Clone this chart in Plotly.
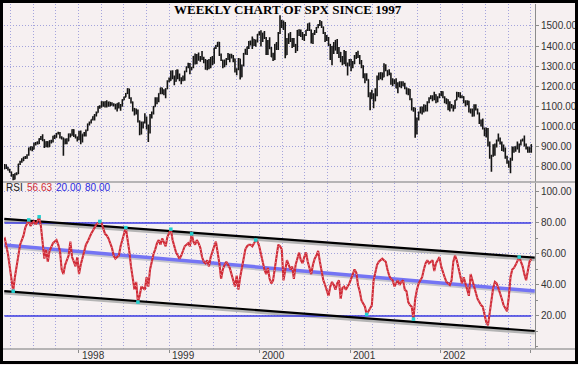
import plotly.graph_objects as go
import pandas as pd

# ---------------- data (weekly SPX, Mar 1997 - Jan 2003) ----------------
open_ = [
    790, 805, 793, 784, 774, 758, 738, 766, 765, 813, 825, 830, 847, 848, 858, 893, 899, 887, 917, 917,
    915, 939, 947, 934, 901, 924, 899, 929, 924, 951, 945, 965, 967, 944, 942, 915, 928, 928, 963, 955,
    984, 953, 947,
    936, 975, 928, 962, 958, 980, 1012, 1020, 1034, 1049, 1056, 1069, 1099, 1095, 1123, 1111, 1123, 1108, 1121, 1108,
    1109, 1110, 1091, 1114, 1099, 1101, 1133, 1146, 1164, 1187, 1141, 1121, 1089, 1063, 1081, 1027, 974, 1009, 1020, 1045,
    1003, 985, 1056, 1071, 1099, 1141, 1126, 1164, 1192, 1177, 1166, 1188, 1226,
    1229, 1275, 1243, 1225, 1280, 1239, 1230, 1239, 1238, 1275, 1295, 1299, 1283, 1294, 1348, 1319, 1357, 1335, 1345, 1338,
    1330, 1302, 1328, 1294, 1343, 1315, 1391, 1403, 1419, 1357, 1329, 1300, 1328, 1337, 1348, 1357, 1352, 1335, 1277, 1283,
    1336, 1247, 1302, 1363, 1370, 1396, 1422, 1417, 1433, 1417, 1421, 1458,
    1469, 1441, 1465, 1441, 1360, 1424, 1387, 1346, 1333, 1409, 1395, 1464, 1527, 1499, 1516, 1357, 1435, 1452, 1433, 1421,
    1407, 1378, 1477, 1457, 1464, 1441, 1455, 1479, 1510, 1480, 1420, 1463, 1472, 1492, 1506, 1521, 1495, 1466, 1449, 1437,
    1409, 1374, 1397, 1380, 1427, 1366, 1368, 1342, 1315, 1370, 1312, 1306,
    1320, 1298, 1319, 1343, 1355, 1349, 1315, 1302, 1246, 1234, 1233, 1151, 1140, 1160, 1128, 1184, 1243, 1253, 1267, 1246,
    1292, 1278, 1261, 1265, 1214, 1225, 1224, 1191, 1216, 1211, 1206, 1214, 1190, 1162, 1185, 1134, 1086, 1093, 966, 1041,
    1071, 1092, 1073, 1105, 1087, 1120, 1139, 1150, 1139, 1158, 1123, 1145,
    1161, 1173, 1146, 1128, 1133, 1122, 1096, 1104, 1090, 1132, 1164, 1166, 1149, 1147, 1123, 1111, 1125, 1076, 1073, 1055,
    1107, 1084, 1067, 1028, 1007, 989, 990, 989, 921, 848, 853, 864, 909, 929, 941, 916, 894, 890, 845, 827,
    801, 835, 884, 898, 901, 895, 910, 931, 936, 907, 889, 896, 875,
]
high = [
    814, 812, 800, 790, 776, 764, 768, 772, 815, 830, 842, 850, 853, 862, 895, 900, 900, 919, 923, 927,
    942, 953, 961, 937, 927, 926, 932, 934, 954, 959, 968, 974, 972, 952, 945, 940, 941, 965, 965, 986,
    986, 962, 950,
    978, 980, 962, 972, 985, 1015, 1025, 1035, 1051, 1062, 1075, 1102, 1106, 1125, 1124, 1125, 1130, 1123, 1122, 1120,
    1115, 1112, 1116, 1120, 1112, 1136, 1149, 1166, 1190, 1188, 1145, 1124, 1092, 1090, 1085, 1030, 1025, 1025, 1066, 1050,
    1010, 1062, 1075, 1102, 1145, 1145, 1165, 1193, 1193, 1185, 1190, 1230, 1244,
    1278, 1280, 1253, 1281, 1283, 1263, 1245, 1253, 1277, 1300, 1317, 1316, 1296, 1350, 1363, 1360, 1368, 1350, 1375, 1347,
    1335, 1330, 1336, 1345, 1350, 1392, 1405, 1420, 1420, 1363, 1332, 1333, 1340, 1365, 1362, 1362, 1355, 1338, 1290, 1340,
    1337, 1308, 1365, 1387, 1398, 1425, 1428, 1447, 1435, 1433, 1460, 1474,
    1479, 1466, 1475, 1445, 1430, 1444, 1395, 1367, 1410, 1420, 1470, 1553, 1530, 1527, 1520, 1440, 1463, 1470, 1440, 1440,
    1410, 1480, 1483, 1482, 1470, 1460, 1480, 1512, 1517, 1482, 1465, 1480, 1495, 1510, 1530, 1523, 1497, 1470, 1455, 1445,
    1410, 1400, 1420, 1430, 1435, 1395, 1370, 1350, 1380, 1375, 1318, 1335,
    1335, 1325, 1355, 1370, 1377, 1355, 1330, 1305, 1265, 1265, 1235, 1170, 1183, 1165, 1190, 1253, 1268, 1270, 1268, 1315,
    1310, 1280, 1285, 1267, 1240, 1235, 1240, 1220, 1225, 1225, 1225, 1218, 1195, 1190, 1187, 1140, 1096, 1093, 1045, 1075,
    1100, 1100, 1110, 1107, 1125, 1145, 1155, 1155, 1173, 1160, 1150, 1165,
    1176, 1175, 1150, 1140, 1135, 1125, 1112, 1105, 1132, 1173, 1172, 1170, 1155, 1150, 1130, 1130, 1128, 1090, 1090, 1110,
    1110, 1090, 1070, 1035, 1040, 995, 995, 993, 925, 860, 912, 915, 935, 965, 945, 925, 910, 895, 855, 830,
    845, 900, 900, 902, 925, 915, 935, 940, 955, 915, 900, 897, 912,
]
low = [
    788, 789, 781, 770, 750, 733, 737, 757, 764, 808, 820, 828, 838, 840, 855, 880, 877, 885, 906, 910,
    913, 933, 927, 893, 897, 896, 898, 915, 920, 938, 944, 960, 940, 935, 855, 912, 912, 927, 945, 954,
    948, 940, 925,
    932, 912, 920, 950, 950, 979, 1005, 1015, 1030, 1030, 1050, 1068, 1088, 1094, 1098, 1095, 1095, 1098, 1100, 1103,
    1100, 1085, 1074, 1090, 1078, 1100, 1130, 1145, 1162, 1138, 1114, 1074, 1055, 1060, 1020, 957, 960, 990, 1015, 985,
    923, 965, 1040, 1060, 1098, 1110, 1120, 1160, 1160, 1155, 1140, 1185, 1220,
    1228, 1235, 1205, 1223, 1235, 1225, 1210, 1225, 1228, 1270, 1290, 1260, 1280, 1290, 1308, 1310, 1327, 1322, 1330, 1315,
    1282, 1280, 1285, 1290, 1305, 1312, 1385, 1395, 1350, 1325, 1290, 1295, 1305, 1330, 1320, 1338, 1320, 1268, 1255, 1280,
    1233, 1245, 1300, 1357, 1355, 1385, 1403, 1385, 1400, 1396, 1418, 1452,
    1398, 1420, 1435, 1355, 1355, 1385, 1345, 1325, 1330, 1380, 1380, 1460, 1490, 1480, 1339, 1355, 1410, 1420, 1390, 1395,
    1365, 1375, 1450, 1445, 1430, 1425, 1450, 1475, 1475, 1413, 1410, 1455, 1465, 1488, 1500, 1490, 1460, 1420, 1425, 1400,
    1330, 1305, 1360, 1378, 1360, 1340, 1320, 1305, 1310, 1300, 1254, 1300,
    1275, 1290, 1310, 1335, 1340, 1310, 1290, 1240, 1215, 1228, 1145, 1081, 1135, 1091, 1125, 1150, 1230, 1235, 1230, 1245,
    1275, 1250, 1255, 1208, 1200, 1210, 1190, 1165, 1195, 1190, 1200, 1185, 1160, 1155, 1130, 1080, 1073, 944, 960, 1030,
    1065, 1060, 1070, 1075, 1075, 1115, 1135, 1125, 1130, 1115, 1120, 1140,
    1150, 1140, 1115, 1110, 1081, 1074, 1090, 1074, 1088, 1130, 1145, 1140, 1140, 1115, 1100, 1105, 1070, 1065, 1048, 1050,
    1080, 1060, 1012, 1000, 985, 952, 945, 900, 840, 775, 850, 855, 895, 925, 910, 878, 875, 840, 815, 795,
    768, 830, 870, 875, 885, 870, 905, 925, 900, 885, 870, 870, 870,
]
close = [
    805, 793, 784, 774, 758, 738, 766, 765, 813, 825, 830, 847, 848, 858, 893, 899, 887, 917, 917, 915,
    939, 947, 934, 901, 924, 899, 929, 924, 951, 945, 965, 967, 944, 942, 915, 928, 928, 963, 955, 984,
    953, 947, 936,
    975, 928, 962, 958, 980, 1012, 1020, 1034, 1049, 1056, 1069, 1099, 1095, 1123, 1111, 1123, 1108, 1121, 1108, 1109,
    1110, 1091, 1114, 1099, 1101, 1133, 1146, 1164, 1187, 1141, 1121, 1089, 1063, 1081, 1027, 974, 1009, 1020, 1045, 1003,
    985, 1056, 1071, 1099, 1141, 1126, 1164, 1192, 1177, 1166, 1188, 1226, 1229,
    1275, 1243, 1225, 1280, 1239, 1230, 1239, 1238, 1275, 1295, 1299, 1283, 1294, 1348, 1319, 1357, 1335, 1345, 1338, 1330,
    1302, 1328, 1294, 1343, 1315, 1391, 1403, 1419, 1357, 1329, 1300, 1328, 1337, 1348, 1357, 1352, 1335, 1277, 1283, 1336,
    1247, 1302, 1363, 1370, 1396, 1422, 1417, 1433, 1417, 1421, 1458, 1469,
    1441, 1465, 1441, 1360, 1424, 1387, 1346, 1333, 1409, 1395, 1464, 1527, 1499, 1516, 1357, 1435, 1452, 1433, 1421, 1407,
    1378, 1477, 1457, 1464, 1441, 1455, 1479, 1510, 1480, 1420, 1463, 1472, 1492, 1506, 1521, 1495, 1466, 1449, 1437, 1409,
    1374, 1397, 1380, 1427, 1366, 1368, 1342, 1315, 1370, 1312, 1306, 1320,
    1298, 1319, 1343, 1355, 1349, 1315, 1302, 1246, 1234, 1233, 1151, 1140, 1160, 1128, 1184, 1243, 1253, 1267, 1246, 1292,
    1278, 1261, 1265, 1214, 1225, 1224, 1191, 1216, 1211, 1206, 1214, 1190, 1162, 1185, 1134, 1086, 1093, 966, 1041, 1071,
    1092, 1073, 1105, 1087, 1120, 1139, 1150, 1139, 1158, 1123, 1145, 1161,
    1173, 1146, 1128, 1133, 1122, 1096, 1104, 1090, 1132, 1164, 1166, 1149, 1147, 1123, 1111, 1125, 1076, 1073, 1055, 1107,
    1084, 1067, 1028, 1007, 989, 990, 989, 921, 848, 853, 864, 909, 929, 941, 916, 894, 890, 845, 827, 801,
    835, 884, 898, 901, 895, 910, 931, 936, 907, 889, 896, 875, 909,
]
rsi = [
    71, 66, 60, 52, 43, 36, 45, 52, 62, 66, 69, 72, 77, 80, 82, 78, 80, 81, 79, 81,
    84, 78, 66, 57, 63, 55, 62, 65, 67, 68, 69, 66, 62, 50, 47, 53, 56, 59, 68, 58,
    55, 52, 58, 47, 53, 57, 61, 66, 68, 71, 73, 75, 77, 79, 80, 81, 80, 77, 73, 72,
    70, 67, 64, 59, 57, 58, 59, 65, 70, 73, 77, 70, 62, 52, 44, 37, 42, 29, 33, 39,
    38, 37, 45, 39, 50, 56, 60, 63, 67, 69, 66, 70, 67, 65, 71, 74, 76, 69, 65, 61,
    59, 57, 59, 62, 65, 66, 67, 65, 73, 68, 66, 69, 67, 64, 58, 55, 54, 56, 52, 58,
    62, 65, 68, 61, 54, 44, 50, 53, 55, 53, 51, 47, 43, 39, 46, 37, 45, 52, 57, 63,
    65, 66, 66, 65, 67, 69, 68, 65, 60, 54, 50, 47, 51, 44, 41, 43, 50, 56, 66, 65,
    63, 43, 51, 56, 53, 50, 52, 44, 53, 58, 61, 56, 54, 58, 61, 55, 51, 47, 53, 57,
    59, 62, 55, 49, 43, 40, 37, 33, 39, 42, 40, 37, 41, 43, 31, 38, 39, 37, 39, 41,
    44, 47, 50, 48, 40, 36, 30, 28, 26, 21, 23, 25, 27, 43, 49, 53, 55, 56, 57, 56,
    55, 50, 46, 44, 43, 39, 41, 43, 40, 42, 43, 37, 36, 29, 27, 26, 18, 31, 37, 41,
    43, 45, 50, 54, 56, 54, 55, 56, 49, 54, 56, 58, 52, 48, 45, 42, 41, 40, 43, 55,
    59, 56, 51, 46, 41, 45, 41, 37, 33, 47, 43, 38, 35, 31, 29, 27, 26, 21, 16, 14,
    22, 33, 38, 42, 41, 38, 35, 31, 27, 25, 23, 32, 45, 50, 51, 53, 56, 58, 55, 52,
    47, 43, 49, 55, 56.63,
]
first_week = "1997-03-07"
dates = pd.date_range(first_week, periods=len(close), freq="W-FRI")

# RSI reference levels and drawn trend channel (value at left edge, value at right edge)
rsi_levels = [20, 80]
channel_dates = ["1997-03-06", "2003-01-17"]
channel_upper = [82.6, 57.6]
channel_middle = [65.8, 36.1]
channel_lower = [36.1, 10.3]
touch_weeks = [5, 14, 20, 55, 70, 77, 96, 108, 145, 209, 236, 297]

rsi_label = "RSI"
rsi_last_text = "56.63"
level_texts = ["20.00", "80.00"]
title_text = "WEEKLY CHART OF SPX SINCE 1997"
price_ticks = [800, 900, 1000, 1100, 1200, 1300, 1400, 1500]
rsi_ticks = [20, 40, 60, 80, 100]
year_ticks = ["1998-01-01", "1999-01-01", "2000-01-01", "2001-01-01", "2002-01-01", "2003-01-01"]
year_labels = ["1998", "1999", "2000", "2001", "2002", ""]

# ---------------- figure ----------------
W, H = 578, 365
ML, MR, MT, MB = 4, 43, 4, 16
PW, PH = W - ML - MR, H - MT - MB


def px_x(px):
    return (px - ML) / PW


def px_y(py):
    return (H - MB - py) / PH


BG = "#f6f0f1"
GRID = "#a4a4dc"
AXC = "#8c8c8c"
FONT = "Liberation Sans"
DOT = "1px,2px"

fig = go.Figure()

fig.add_trace(go.Ohlc(
    x=dates, open=open_, high=high, low=low, close=close,
    xaxis="x2", yaxis="y2", tickwidth=0.4,
    increasing=dict(line=dict(color="#141414", width=1.6)),
    decreasing=dict(line=dict(color="#141414", width=1.6)),
    hoverinfo="skip", showlegend=False,
))

# channel shadows
for vals, col in [(channel_upper, "#b4b4b4"), (channel_lower, "#b4b4b4"), (channel_middle, "#c4c4cc")]:
    fig.add_trace(go.Scatter(x=channel_dates, y=[v - 1.3 for v in vals], mode="lines",
                             line=dict(color=col, width=3), xaxis="x", yaxis="y",
                             hoverinfo="skip", showlegend=False))
# level lines
for lv in rsi_levels:
    fig.add_trace(go.Scatter(x=[dates[0], dates[-1]], y=[lv, lv], mode="lines",
                             line=dict(color="#3a3ae0", width=1.5), xaxis="x", yaxis="y",
                             hoverinfo="skip", showlegend=False))
fig.add_trace(go.Scatter(x=channel_dates, y=channel_middle, mode="lines",
                         line=dict(color="#7474f4", width=3.5), xaxis="x", yaxis="y",
                         hoverinfo="skip", showlegend=False))
for vals in (channel_upper, channel_lower):
    fig.add_trace(go.Scatter(x=channel_dates, y=vals, mode="lines",
                             line=dict(color="#000000", width=2.2), xaxis="x", yaxis="y",
                             hoverinfo="skip", showlegend=False))

# RSI line
fig.add_trace(go.Scatter(x=dates, y=rsi, mode="lines", line=dict(color="#d02a36", width=2.1),
                         xaxis="x", yaxis="y", hoverinfo="skip", showlegend=False))
fig.add_trace(go.Scatter(x=dates, y=rsi, mode="lines",
                         line=dict(color="rgba(255,255,255,0.8)", width=0.7, dash="1px,3px"),
                         xaxis="x", yaxis="y", hoverinfo="skip", showlegend=False))
fig.add_trace(go.Scatter(x=[dates[i] for i in touch_weeks], y=[rsi[i] for i in touch_weeks],
                         mode="markers", marker=dict(color="#20d0d0", size=3.5, symbol="square"),
                         xaxis="x", yaxis="y", hoverinfo="skip", showlegend=False))

xcommon = dict(
    type="date", range=["1997-03-05", "2003-01-18"], showgrid=True, gridcolor=GRID,
    griddash=DOT, gridwidth=1, zeroline=False, showline=False, automargin=False,
    tickmode="array", tickvals=year_ticks,
    minor=dict(dtick="M3", tick0="1998-01-01", showgrid=True, gridcolor=GRID, griddash=DOT, gridwidth=1),
    rangeslider=dict(visible=False),
)
fig.update_layout(
    width=W, height=H, margin=dict(l=ML, r=MR, t=MT, b=MB, pad=0, autoexpand=False),
    paper_bgcolor=BG, plot_bgcolor=BG, showlegend=False,
    font=dict(family=FONT, size=10, color="#333333"),
    xaxis=dict(domain=[0, 1], anchor="y", ticks="outside", ticklen=3, tickcolor=AXC,
               showticklabels=False, **xcommon),
    xaxis2=dict(domain=[0, 1], anchor="y2", matches="x", showticklabels=False, ticks="", **xcommon),
    yaxis=dict(domain=[0, px_y(183)], range=[-1.3, 105.8], side="right", anchor="x", automargin=False,
               tickvals=rsi_ticks, tickformat=".2f", ticks="outside", ticklen=3, tickcolor=AXC,
               tickfont=dict(size=10, color="#333333"),
               showline=True, linecolor=AXC, linewidth=1, showgrid=True, gridcolor=GRID,
               griddash=DOT, zeroline=False,
               minor=dict(dtick=10, ticks="outside", ticklen=2, tickcolor=AXC, showgrid=False)),
    yaxis2=dict(domain=[px_y(182), 1], range=[724, 1609], side="right", anchor="x2", automargin=False,
                tickvals=price_ticks, tickformat=".2f", ticks="outside", ticklen=3, tickcolor=AXC,
                tickfont=dict(size=10, color="#333333"),
                showline=True, linecolor=AXC, linewidth=1, showgrid=True, gridcolor=GRID,
                griddash=DOT, zeroline=False),
)

# separators and frame
fig.add_shape(type="line", xref="paper", yref="paper", x0=px_x(3), x1=px_x(575), y0=px_y(182), y1=px_y(182),
              line=dict(color="#a0a0a0", width=1.5))
fig.add_shape(type="line", xref="paper", yref="paper", x0=px_x(3), x1=px_x(575), y0=px_y(349), y1=px_y(349),
              line=dict(color="#a0a0a0", width=1.5))
fig.add_shape(type="rect", xref="paper", yref="paper", x0=px_x(1.5), x1=px_x(576.5), y0=px_y(362.5), y1=px_y(1.5),
              line=dict(color="#000000", width=3))

# year labels, placed just right of their ticks
for tv, lab in zip(year_ticks, year_labels):
    if lab:
        fig.add_annotation(text=lab, xref="x", yref="paper", x=tv, y=px_y(355.5),
                           xanchor="left", yanchor="middle", xshift=1, showarrow=False,
                           font=dict(family=FONT, size=10, color="#333333"))

# title and RSI legend
fig.add_annotation(text="<b>" + title_text + "</b>", xref="paper", yref="paper", x=px_x(288), y=px_y(0),
                   xanchor="center", yanchor="top", showarrow=False,
                   font=dict(family="Liberation Serif", size=13, color="#000000"))
legend_parts = [(rsi_label, 4, "#222222"), (rsi_last_text, 25, "#d02a36"),
                (level_texts[0], 54, "#2a2ae0"), (level_texts[1], 83, "#2a2ae0")]
for txt, xp, col in legend_parts:
    fig.add_annotation(text=txt, xref="paper", yref="paper", x=px_x(xp), y=px_y(187),
                       xanchor="left", yanchor="middle", showarrow=False,
                       font=dict(family=FONT, size=10, color=col))

fig.write_html("out.html", config={"displayModeBar": False, "staticPlot": True},
               post_script="document.body.style.margin='0';document.body.style.padding='0';"
                           "document.body.style.overflow='hidden';")
